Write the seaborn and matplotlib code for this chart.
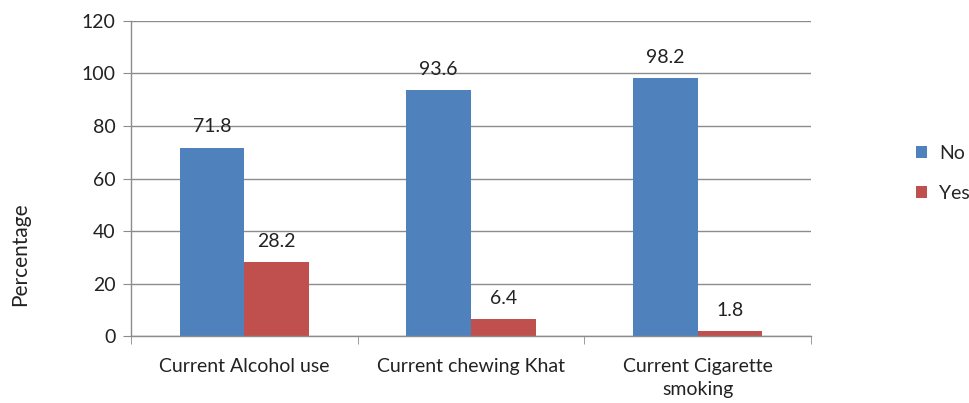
import matplotlib
matplotlib.use("Agg")
import matplotlib.pyplot as plt
import seaborn as sns
import pandas as pd
from matplotlib.patches import Patch

categories = ["Current Alcohol use", "Current chewing Khat", "Current Cigarette\nsmoking"]
no_values = [71.8, 93.6, 98.2]
yes_values = [28.2, 6.4, 1.8]
series = ["No", "Yes"]
colors = ["#4F81BD", "#C0504D"]
yticks = [0, 20, 40, 60, 80, 100, 120]

df = pd.DataFrame({
    "category": categories * 2,
    "value": no_values + yes_values,
    "answer": ["No"] * 3 + ["Yes"] * 3,
})

sns.set_style("white")
plt.rcParams["font.family"] = ["Lato", "DejaVu Sans"]

fig = plt.figure(figsize=(9.69, 4.03), dpi=100)
ax = fig.add_axes([0.135, 0.166, 0.702, 0.782])

sns.barplot(data=df, x="category", y="value", hue="answer", order=categories,
            hue_order=series, palette=colors, width=0.57, saturation=1,
            edgecolor="none", legend=False, ax=ax)

for container in ax.containers:
    ax.bar_label(container, labels=[f"{v:.1f}" for v in container.datavalues],
                 padding=9, fontsize=14, color="#222222")

ax.set_ylim(0, 120)
ax.set_yticks(yticks)
ax.set_xlim(-0.5, 2.5)
ax.yaxis.grid(True, color="#8c8c8c", linewidth=1)
ax.set_axisbelow(True)
ax.set_xlabel("")
ax.set_ylabel("Percentage", fontsize=15, color="#222222")
ax.yaxis.set_label_coords(-0.148, 0.26)

for side in ["top", "right"]:
    ax.spines[side].set_visible(False)
for side in ["left", "bottom"]:
    ax.spines[side].set_color("#8c8c8c")
    ax.spines[side].set_linewidth(1)

ax.tick_params(axis="y", which="major", left=True, length=6, color="#8c8c8c",
               labelsize=14, labelcolor="#222222", pad=5)
ax.set_xticks([0, 1, 2])
ax.set_xticklabels(categories, fontsize=14, color="#222222", linespacing=1.45)
ax.tick_params(axis="x", which="major", bottom=False, pad=12)
ax.set_xticks([-0.5, 0.5, 1.5, 2.5], minor=True)
ax.tick_params(axis="x", which="minor", bottom=True, length=6, color="#8c8c8c", direction="out")

handles = [Patch(facecolor=c, edgecolor="none") for c in colors]
fig.legend(handles, series, loc="center left", bbox_to_anchor=(0.945, 0.57),
           frameon=False, fontsize=14, handlelength=0.6, handleheight=0.6,
           labelspacing=1.2, handletextpad=0.6, borderpad=0, borderaxespad=0)

fig.savefig("out.png", dpi=100)
